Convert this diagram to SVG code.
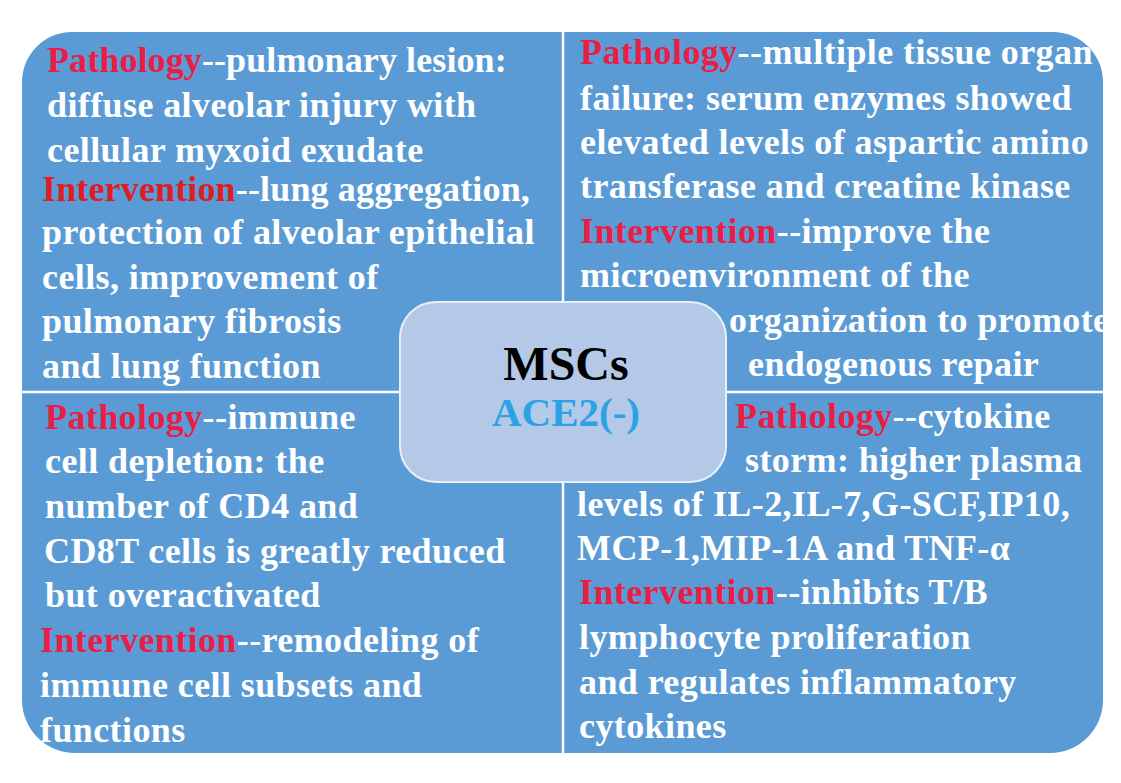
<svg xmlns="http://www.w3.org/2000/svg" width="1121" height="783" viewBox="0 0 1121 783">
<style>
.t{font-family:"Liberation Serif","Times New Roman",serif;font-weight:bold;font-size:36px;fill:#ffffff;letter-spacing:0.4px}
.r{fill:#E91E47}
.r2{fill:#DE1E26}
.div{stroke:#ffffff;stroke-width:2.5;fill:none}
</style>
<rect width="1121" height="783" fill="#ffffff"/>
<path d="M72,32 H1053 A50,50 0 0 1 1103,82 V700 A53,53 0 0 1 1050,753 H75 A53,53 0 0 1 22,700 V82 A50,50 0 0 1 72,32 Z" fill="#5B9BD5"/>
<g id="dividers">
<line class="div" x1="563" y1="32" x2="563" y2="753"/>
<line class="div" x1="22" y1="392" x2="1103" y2="392"/>
</g>
<g id="top-left">
<text class="t" x="47" y="72" style="letter-spacing:0.1px"><tspan class="r">Pathology</tspan>--pulmonary lesion:</text>
<text class="t" x="47" y="117">diffuse alveolar injury with</text>
<text class="t" x="47" y="162">cellular myxoid exudate</text>
<text class="t" x="42" y="201" style="letter-spacing:0.15px"><tspan class="r2">Intervention</tspan>--lung aggregation,</text>
<text class="t" x="42" y="244">protection of alveolar epithelial</text>
<text class="t" x="42" y="289">cells, improvement of</text>
<text class="t" x="42" y="333">pulmonary fibrosis</text>
<text class="t" x="42" y="378">and lung function</text>
</g>
<g id="top-right">
<text class="t" x="580" y="64"><tspan class="r">Pathology</tspan>--multiple tissue organ</text>
<text class="t" x="580" y="110">failure: serum enzymes showed</text>
<text class="t" x="580" y="154">elevated levels of aspartic amino</text>
<text class="t" x="580" y="198">transferase and creatine kinase</text>
<text class="t" x="580" y="243"><tspan class="r">Intervention</tspan>--improve the</text>
<text class="t" x="580" y="287">microenvironment of the</text>
<text class="t" x="729" y="332">organization to promote</text>
<text class="t" x="748" y="376">endogenous repair</text>
</g>
<g id="bottom-left">
<text class="t" x="45" y="429"><tspan class="r">Pathology</tspan>--immune</text>
<text class="t" x="45" y="473">cell depletion: the</text>
<text class="t" x="45" y="518">number of CD4 and</text>
<text class="t" x="44" y="563">CD8T cells is greatly reduced</text>
<text class="t" x="45" y="607">but overactivated</text>
<text class="t" x="40" y="652"><tspan class="r">Intervention</tspan>--remodeling of</text>
<text class="t" x="40" y="697">immune cell subsets and</text>
<text class="t" x="40" y="742">functions</text>
</g>
<g id="bottom-right">
<text class="t" x="735" y="428"><tspan class="r">Pathology</tspan>--cytokine</text>
<text class="t" x="745" y="472">storm: higher plasma</text>
<text class="t" x="577" y="516">levels of IL-2,IL-7,G-SCF,IP10,</text>
<text class="t" x="577" y="560">MCP-1,MIP-1A and TNF-α</text>
<text class="t" x="579" y="604"><tspan class="r">Intervention</tspan>--inhibits T/B</text>
<text class="t" x="579" y="649">lymphocyte proliferation</text>
<text class="t" x="579" y="694">and regulates inflammatory</text>
<text class="t" x="579" y="738">cytokines</text>
</g>
<g id="center-msc">
<rect x="400" y="302" width="326" height="180" rx="36" ry="36" fill="#B4C8E7" stroke="#E8EFF8" stroke-width="2"/>
<text x="566" y="380" text-anchor="middle" font-family="Liberation Serif, Times New Roman, serif" font-weight="bold" font-size="48" fill="#000000">MSCs</text>
<text x="566" y="426" text-anchor="middle" font-family="Liberation Serif, Times New Roman, serif" font-weight="bold" font-size="41" fill="#2BA2E6">ACE2(-)</text>
</g>
</svg>
